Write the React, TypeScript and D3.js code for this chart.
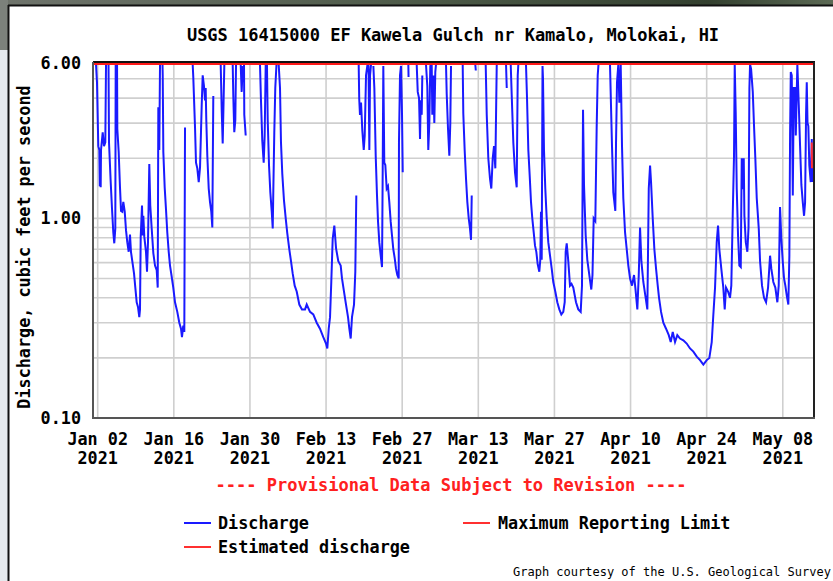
import React from "react";
import * as d3 from "d3";

const TITLE = "USGS 16415000 EF Kawela Gulch nr Kamalo, Molokai, HI";
const Y_LABEL = "Discharge, cubic feet per second";
const PROVISIONAL = "---- Provisional Data Subject to Revision ----";
const FOOTER = "Graph courtesy of the U.S. Geological Survey";
const LEGEND_LABELS = ["Discharge", "Estimated discharge", "Maximum Reporting Limit"];

const tickDates = [
  "2021-01-02", "2021-01-16", "2021-01-30", "2021-02-13", "2021-02-27",
  "2021-03-13", "2021-03-27", "2021-04-10", "2021-04-24", "2021-05-08",
];
const yTickValues = [0.1, 1, 6];
const yGridValues = [0.2, 0.3, 0.4, 0.5, 0.6, 0.7, 0.8, 0.9, 1, 2, 3, 4, 5];
const maxReportingLimit = 6;
const domainDays = [0.136, 132.74];

// days since 2021-01-01 00:00, discharge in ft3/s (null = not reported / above limit)
const dayOffsets = [
  0.69, 0.87, 1.11, 1.30, 1.39, 1.48, 1.55, 1.61, 1.92, 2.16, 2.40, 2.53, 2.71,
  2.99, 3.08, 3.39, 3.63, 3.87, 4.05, 4.24, 4.31, 4.46,
  4.56, 4.61, 4.86, 5.10, 5.29, 5.52, 5.71, 5.97, 6.21, 6.44, 6.70, 6.94, 7.12, 7.44, 7.68, 7.92, 8.17, 8.41, 8.65, 8.78, 8.91, 9.15, 9.28, 9.39, 9.57, 9.88, 10.07, 10.25, 10.49, 10.67, 10.93, 11.23, 11.54, 11.85, 12.04, 12.15, 12.33, 12.46, 12.73,
  12.92, 12.96, 13.07, 13.32, 13.56, 13.80, 14.06, 14.30, 14.61, 14.90, 15.22, 15.64, 16.01, 16.32, 16.50, 16.74, 16.93, 17.06, 17.61,
  18.47, 18.58, 18.90, 19.08, 19.32, 19.58, 19.82, 20.13, 20.31, 20.55, 20.74, 20.86, 20.97, 21.16, 21.42, 21.65, 21.89, 22.08, 22.26, 22.76,
  23.62, 23.81, 23.99, 24.10, 24.29, 24.78,
  25.83, 25.94, 26.12, 26.31, 26.44, 26.81,
  27.30, 27.48, 27.67, 27.78,
  27.91, 27.96, 28.22, 28.46,
  30.85, 31.03, 31.27, 31.53, 31.71, 31.90, 32.05,
  32.13, 32.27, 32.51, 32.75, 33.01, 33.19, 33.30, 33.48, 33.66, 33.88, 34.07,
  34.29, 34.53, 34.71, 34.95, 35.26, 35.58, 35.87, 36.24, 36.55, 36.86, 37.23, 37.60, 38.08, 38.57, 39.13, 39.44, 40.05, 40.65, 41.28, 41.88, 42.49, 42.99, 43.23, 43.49, 43.73, 43.96, 44.22, 44.52, 44.83, 45.25, 45.69, 45.93, 46.30, 46.67, 47.04, 47.28, 47.53, 47.77, 48.14, 48.38, 48.56, 48.78,
  49.00, 49.10, 49.24, 49.43, 49.67, 49.93, 50.11, 50.35, 50.62, 50.81, 50.96, 51.09, 51.27, 51.46,
  51.70, 51.88, 52.13, 52.37, 52.56, 52.79, 53.05, 53.29, 53.42, 53.53, 53.71, 53.90, 54.15, 54.39, 54.63, 54.89, 55.13, 55.37, 55.63, 55.86, 56.10, 56.36, 56.41, 56.60, 56.78, 56.97, 57.10, 57.34,
  58.13, 58.17, 58.44,
  59.67, 59.86, 60.10, 60.28, 60.41, 60.59, 60.70, 61.01,
  61.38, 61.62, 61.80, 61.99, 62.17, 62.43, 62.54, 62.73, 62.91, 63.09, 63.22, 63.96,
  65.06, 65.19, 65.43, 65.67, 65.85, 65.98, 66.72,
  68.13, 68.24, 68.49, 68.74, 68.98, 69.24, 69.47, 69.66, 69.79, 70.03,
  70.45, 70.54, 70.76,
  72.36, 72.55, 72.84, 73.15, 73.39, 73.65, 73.89, 74.13, 74.39, 75.00,
  76.10, 76.23, 76.47,
  76.96, 77.15, 77.44, 77.75, 78.06, 78.25, 78.36, 78.85,
  79.77, 79.96, 80.20, 80.45, 80.69, 80.93, 81.19, 81.43, 81.67, 81.92, 82.22, 82.40, 82.53, 82.66, 82.81, 82.90, 83.08, 83.32, 83.58, 83.87, 84.19, 84.50, 84.79, 85.16, 85.53, 85.90, 86.27, 86.63, 86.89, 87.07, 87.26, 87.55, 87.86, 88.14, 88.47, 88.97, 89.39, 89.83, 90.07, 90.26, 90.44, 90.75, 91.05, 91.42, 91.78, 92.00, 92.22, 92.52, 92.77, 92.96, 93.10, 93.38,
  95.22, 95.59, 95.83, 96.20, 96.33, 96.51, 96.75, 96.94, 97.19, 97.43, 97.67, 97.99, 98.30, 98.59, 98.91, 99.27, 99.64, 99.88, 100.25, 100.51, 100.75, 100.99, 101.35, 101.72, 102.09, 102.35, 102.59, 102.77, 103.08, 103.38, 103.69, 104.00, 104.24, 104.61, 105.03, 105.53, 106.03, 106.39, 106.76, 107.18, 107.60, 108.10, 108.71, 109.33, 109.94, 110.55, 111.18, 111.78, 112.39, 113.01, 113.49, 113.93, 114.23, 114.54, 114.85, 115.09, 115.33, 115.69, 116.06, 116.32, 116.56, 116.93, 117.29, 117.53, 117.79, 118.03, 118.16, 118.34, 118.53, 118.77, 119.01, 119.27, 119.45, 119.64, 119.82, 119.94, 120.19, 120.48, 120.70, 120.86, 120.98, 121.17, 121.48, 121.71, 121.95, 122.21, 122.58, 122.82, 123.18, 123.55, 123.92, 124.29, 124.66, 124.89, 125.26, 125.63, 126.00, 126.25, 126.49, 126.73, 126.99, 127.23, 127.47, 127.73, 128.02, 128.21, 128.34, 128.47, 128.65, 128.84, 129.02, 129.26, 129.39, 129.68, 129.94, 130.18, 130.42, 130.67, 130.91, 131.10, 131.28, 131.41, 131.55, 131.70, 131.88, 132.14, 132.33, 132.44,
];

const discharge: (number | null)[] = [
  5.9, 4.8, 2.3, 2.2, 1.45, 2.0, 1.43, 2.2, 2.7, 2.3, 2.4, 5.9, null,
  5.9, 2.4, 1.52, 1.12, 0.85, 0.75, 0.89, 5.9, null,
  5.9, 2.8, 2.15, 1.43, 1.09, 1.08, 1.21, 1.08, 0.87, 0.76, 0.68, 0.83, 0.68, 0.59, 0.53, 0.45, 0.38, 0.36, 0.32, 0.35, 0.81, 1.16, 0.82, 1.03, 0.81, 0.68, 0.54, 0.76, 1.87, 1.16, 0.89, 0.67, 0.58, 0.55, 0.45, 3.6, 2.2, 5.9, null,
  5.9, 5.2, 2.15, 1.43, 1.11, 0.85, 0.68, 0.58, 0.51, 0.45, 0.38, 0.34, 0.30, 0.28, 0.254, 0.29, 0.27, 2.85, null,
  5.9, 5.1, 2.85, 1.9, 1.78, 1.52, 1.8, 3.7, 5.2, 4.6, 3.9, 4.5, 3.13, 2.06, 1.41, 1.21, 1.08, 0.90, 4.1, null,
  5.9, 3.47, 2.37, 3.3, 5.9, null,
  5.9, 4.1, 2.7, 3.1, 5.9, null,
  5.9, 4.3, 5.8, null,
  5.9, 3.3, 2.6, null,
  5.9, 3.9, 2.45, 1.9, 2.6, 5.9, null,
  5.9, 3.1, 1.84, 1.35, 1.08, 0.89, 1.38, 2.7, 4.5, 5.9, null,
  5.9, 4.5, 2.4, 1.67, 1.23, 1.0, 0.84, 0.70, 0.61, 0.53, 0.46, 0.43, 0.37, 0.35, 0.35, 0.37, 0.34, 0.33, 0.30, 0.28, 0.254, 0.236, 0.223, 0.28, 0.32, 0.48, 0.79, 0.92, 0.71, 0.61, 0.58, 0.50, 0.43, 0.37, 0.32, 0.28, 0.25, 0.32, 0.37, 0.54, 1.3, null,
  5.9, 3.96, 3.3, 3.8, 2.75, 2.2, 2.6, 5.2, 5.9, 5.8, 2.2, 5.2, 5.9, null,
  5.8, 4.5, 2.06, 1.3, 0.96, 0.76, 0.65, 0.57, 1.78, 5.8, 1.9, 1.85, 1.41, 1.45, 1.21, 0.96, 0.82, 0.70, 0.63, 0.56, 0.52, 0.50, 2.4, 5.2, 5.8, 3.3, 1.7, null,
  5.9, 5.1, null,
  5.9, 4.3, 4.0, 2.5, 3.9, 3.3, 5.2, null,
  5.9, 4.6, 2.2, 3.0, 5.8, 5.9, 3.3, 5.2, 3.0, 5.4, 5.9, null,
  5.9, 4.2, 2.8, 2.06, 3.0, 5.8, null,
  5.9, 3.35, 2.2, 1.58, 1.21, 1.0, 0.89, 0.78, 1.3, null,
  5.9, 5.5, null,
  5.9, 3.3, 2.0, 1.58, 1.41, 2.0, 2.3, 1.78, 5.9, null,
  5.9, 4.5, null,
  5.9, 4.1, 2.4, 1.7, 1.43, 5.2, 5.9, null,
  5.9, 4.0, 2.2, 1.64, 1.21, 1.0, 0.85, 0.73, 0.68, 0.59, 0.54, 0.62, 1.08, 0.62, 5.8, 5.0, 2.2, 1.41, 1.0, 0.76, 0.65, 0.56, 0.48, 0.43, 0.38, 0.35, 0.33, 0.34, 0.38, 0.68, 0.75, 0.61, 0.46, 0.47, 0.45, 0.38, 0.35, 0.34, 0.46, 3.5, 1.47, 0.82, 0.62, 0.52, 0.44, 0.52, 1.0, 0.97, 2.85, 5.2, 5.9, null,
  5.9, 2.3, 1.35, 1.09, 2.4, 4.8, 5.9, 3.8, 5.9, 2.3, 1.26, 0.85, 0.70, 0.58, 0.50, 0.46, 0.52, 0.45, 0.35, 0.52, 0.90, 0.61, 0.48, 0.41, 0.35, 1.41, 1.84, 1.52, 1.0, 0.70, 0.56, 0.46, 0.40, 0.34, 0.30, 0.28, 0.26, 0.24, 0.27, 0.24, 0.26, 0.25, 0.245, 0.236, 0.223, 0.215, 0.203, 0.195, 0.185, 0.195, 0.20, 0.24, 0.33, 0.45, 0.76, 0.92, 0.70, 0.56, 0.45, 0.35, 0.45, 0.43, 0.40, 0.46, 1.03, 2.06, 5.9, 3.4, 1.41, 0.82, 0.58, 0.57, 2.0, 1.4, 2.0, 1.03, 0.76, 0.68, 0.9, 4.5, 5.9, 5.6, 4.3, 2.9, 2.0, 1.26, 0.89, 0.61, 0.46, 0.40, 0.38, 0.45, 0.65, 0.56, 0.48, 0.45, 0.38, 0.46, 1.14, 0.79, 0.61, 0.50, 0.46, 0.41, 0.37, 0.65, 2.6, 5.4, 5.2, 1.3, 4.5, 4.5, 2.6, 5.9, 3.7, 2.3, 1.47, 1.21, 1.03, 1.2, 3.3, 4.8, 3.0, 2.9, 1.84, 1.52, 2.5, 1.52,
];

const estDayOffsets = [132.33, 132.36];
const estDischarge = [2.4, 1.78];

const BASE = Date.UTC(2021, 0, 1);
const toDate = (d: number) => new Date(BASE + d * 86400000);

export default function App() {
  const W = 833, H = 581;
  const left = 93, right = 814, top = 63, bottom = 418;
  const font = "'DejaVu Sans Mono', monospace";
  const fs = 16.8;

  const x = d3.scaleUtc().domain([toDate(domainDays[0]), toDate(domainDays[1])]).range([left, right]);
  const y = d3.scaleLog().domain([0.1, maxReportingLimit]).range([bottom, top]);

  const pts = dayOffsets.map((d, i) => ({ t: toDate(d), v: discharge[i] }));
  const line = d3
    .line<{ t: Date; v: number | null }>()
    .defined((p) => p.v != null)
    .x((p) => x(p.t))
    .y((p) => y(p.v as number));
  const est = estDayOffsets.map((d, i) => ({ t: toDate(d), v: estDischarge[i] as number | null }));

  const ticks = tickDates.map((s) => new Date(s + "T00:00:00Z"));
  const fmtMD = d3.utcFormat("%b %d");
  const fmtY = d3.utcFormat("%Y");
  const fmtV = d3.format(".2f");

  return (
    <svg width={W} height={H} style={{ position: "absolute", left: 0, top: 0, display: "block" }}>
      <defs>
        <clipPath id="plotclip">
          <rect x={left} y={top - 1} width={right - left} height={bottom - top + 1} />
        </clipPath>
        <linearGradient id="photo" x1="0" x2="1" y1="0" y2="0">
          <stop offset="0" stopColor="#6f746c" />
          <stop offset="0.5" stopColor="#4d5a48" />
          <stop offset="0.85" stopColor="#33402f" />
          <stop offset="1" stopColor="#5c6a55" />
        </linearGradient>
      </defs>
      <rect x={0} y={0} width={W} height={H} fill="#ffffff" />
      <rect x={0} y={0} width={W} height={6} fill="url(#photo)" />
      <rect x={0} y={0} width={8} height={50} fill="#7c817b" />
      <rect x={0} y={50} width={8} height={H - 50} fill="#e6eaee" />
      <line x1={8} x2={W} y1={5.5} y2={5.5} stroke="#111" strokeWidth={2} />
      <line x1={8.5} x2={8.5} y1={5} y2={H} stroke="#111" strokeWidth={2} />

      <text x={453} y={41} textAnchor="middle" fontFamily={font} fontWeight="bold" fontSize={17} fill="#000">
        {TITLE}
      </text>

      {/* grid */}
      {yGridValues.map((v) => (
        <line key={"h" + v} x1={left} x2={right} y1={y(v)} y2={y(v)} stroke="#cfcfcf" strokeWidth={1.6} />
      ))}
      {ticks.map((t, i) => (
        <line key={"v" + i} x1={x(t)} x2={x(t)} y1={top} y2={bottom} stroke="#cfcfcf" strokeWidth={1.6} />
      ))}

      <g clipPath="url(#plotclip)">
        <path d={line(pts) || ""} fill="none" stroke="#1a1aff" strokeWidth={2} strokeLinejoin="miter" />
        <path d={line(est) || ""} fill="none" stroke="#ff3030" strokeWidth={2} />
      </g>
      <line x1={left} x2={right} y1={y(maxReportingLimit) + 1} y2={y(maxReportingLimit) + 1} stroke="#ff1a1a" strokeWidth={2} />

      {/* frame */}
      <line x1={left} x2={right + 1} y1={top - 1} y2={top - 1} stroke="#111" strokeWidth={2} />
      <line x1={right} x2={right} y1={top - 1} y2={bottom + 1} stroke="#222" strokeWidth={2} />
      <line x1={left} x2={right + 1} y1={bottom} y2={bottom} stroke="#555" strokeWidth={2} />
      <line x1={left} x2={left} y1={top - 1} y2={bottom + 1} stroke="#555" strokeWidth={2} />

      {/* y ticks */}
      {yTickValues.map((v) => (
        <text key={"yt" + v} x={81} y={y(v) + 6} textAnchor="end" fontFamily={font} fontWeight="bold" fontSize={fs} fill="#000">
          {fmtV(v)}
        </text>
      ))}
      <text
        transform={`translate(30,247) rotate(-90)`}
        textAnchor="middle"
        fontFamily={font}
        fontWeight="bold"
        fontSize={fs}
        fill="#000"
      >
        {Y_LABEL}
      </text>

      {/* x ticks */}
      {ticks.map((t, i) => (
        <g key={"xt" + i}>
          <text x={x(t)} y={445} textAnchor="middle" fontFamily={font} fontWeight="bold" fontSize={fs} fill="#000">
            {fmtMD(t)}
          </text>
          <text x={x(t)} y={464} textAnchor="middle" fontFamily={font} fontWeight="bold" fontSize={fs} fill="#000">
            {fmtY(t)}
          </text>
        </g>
      ))}

      <text x={451} y={491} textAnchor="middle" fontFamily={font} fontWeight="bold" fontSize={17} fill="#ff2020">
        {PROVISIONAL}
      </text>

      {/* legend */}
      <line x1={184} x2={211} y1={523} y2={523} stroke="#1a1aff" strokeWidth={2} />
      <text x={218} y={529} fontFamily={font} fontWeight="bold" fontSize={fs} fill="#000">{LEGEND_LABELS[0]}</text>
      <line x1={184} x2={211} y1={547} y2={547} stroke="#ff3030" strokeWidth={2} />
      <text x={218} y={553} fontFamily={font} fontWeight="bold" fontSize={fs} fill="#000">{LEGEND_LABELS[1]}</text>
      <line x1={463} x2={490} y1={523} y2={523} stroke="#ff3030" strokeWidth={2} />
      <text x={498} y={529} fontFamily={font} fontWeight="bold" fontSize={fs} fill="#000">{LEGEND_LABELS[2]}</text>

      <text x={513} y={576} fontFamily={font} fontSize={12} fill="#000">{FOOTER}</text>
    </svg>
  );
}
